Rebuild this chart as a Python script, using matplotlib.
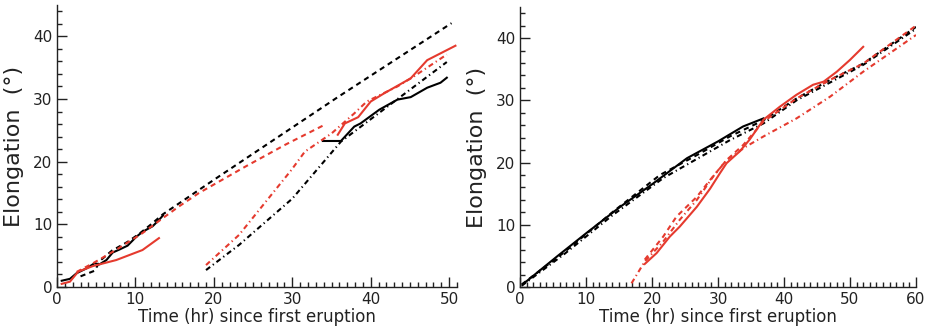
import numpy as np
import matplotlib
matplotlib.use('Agg')
import matplotlib.pyplot as plt
from matplotlib.ticker import MultipleLocator

plt.rcParams.update({'font.family': 'DejaVu Sans', 'text.color': '#222',
                     'axes.labelcolor': '#222', 'xtick.color': '#222',
                     'ytick.color': '#222'})

RED = '#e53a2e'
DASH = (2.5, 2.0)
DASHDOT = (2.5, 1.6, 0.6, 1.6)

# ---- left panel data ----
l_blk_solid_x = [0.6, 1.65, 2.5, 3.8, 4.8, 5.4, 6.3, 7.1, 8.0, 9.0, 10.1, 10.9, 12.2, 13.0, 13.5,
                 np.nan, 33.9, 36.2, 37.9, 38.7, 41.1, 43.4, 45.1, 47.2, 48.9, 49.7]
l_blk_solid_y = [1.0, 1.3, 2.2, 3.0, 3.8, 3.6, 4.3, 5.5, 6.0, 6.6, 8.0, 8.8, 9.7, 10.7, 11.4,
                 np.nan, 23.3, 23.3, 25.6, 26.1, 28.3, 29.9, 30.3, 31.8, 32.6, 33.4]
l_blk_dash_x = [3.0, 4.8, 5.5, 7.0, 9.0, 10.5, 12.0, 13.5, 20.0, 35.8, 50.3]
l_blk_dash_y = [1.7, 2.6, 4.2, 5.8, 7.2, 8.5, 10.0, 11.6, 17.1, 30.3, 42.1]
l_blk_dd_x = [19.0, 23.2, 30.0, 36.2, 43.0, 49.7]
l_blk_dd_y = [2.7, 6.7, 14.1, 23.2, 29.6, 35.9]

l_red_solid_x = [0.6, 1.65, 2.7, 4.6, 7.55, 10.9, 13.0,
                 np.nan, 35.8, 36.7, 38.4, 40.0, 41.7, 45.1, 47.2, 50.8]
l_red_solid_y = [0.5, 0.85, 2.45, 3.35, 4.3, 5.9, 7.8,
                 np.nan, 24.3, 26.1, 27.1, 29.6, 30.9, 33.3, 36.2, 38.5]
l_red_dash_x = [2.5, 4.6, 7.5, 10.9, 13.5, 15.6, 18.1, 24.0, 29.1, 34.3]
l_red_dash_y = [2.4, 3.8, 5.9, 8.6, 11.0, 12.9, 15.0, 19.2, 22.7, 26.0]
l_red_dd_x = [19.0, 23.2, 26.1, 29.9, 31.6, 35.0, 37.9, 39.5, 43.4, 45.5, 49.7]
l_red_dd_y = [3.5, 8.3, 12.8, 18.7, 21.6, 24.5, 27.7, 29.6, 32.0, 33.6, 37.1]

# ---- right panel data ----
r_blk_solid_x = [0.5, 5.6, 10.1, 15.2, 20.0, 25.3, 30.0, 33.8, 36.9]
r_blk_solid_y = [0.5, 4.9, 8.7, 12.9, 16.5, 20.7, 23.4, 25.8, 27.1]
r_blk_dash_x = [0.25, 6.6, 14.1, 21.2, 26.8, 31.8, 36.9, 41.9, 47.0, 52.0, 60.0]
r_blk_dash_y = [0.4, 5.5, 12.1, 18.0, 21.2, 24.2, 26.8, 30.3, 33.3, 35.9, 41.8]
r_blk_dd_x = [0.25, 6.6, 14.1, 21.7, 31.8, 36.9, 41.9, 52.0, 60.0]
r_blk_dd_y = [0.2, 5.2, 11.6, 17.5, 23.6, 26.3, 30.0, 35.7, 41.5]

r_red_solid_x = [18.9, 20.7, 22.7, 24.2, 26.8, 28.8, 30.3, 31.3, 33.3, 34.8, 36.9,
                 39.4, 41.9, 44.4, 46.0, 48.0, 50.0, 52.0]
r_red_solid_y = [3.7, 5.45, 8.1, 9.7, 12.9, 15.8, 18.3, 19.9, 21.8, 23.7, 26.9,
                 29.0, 30.9, 32.5, 33.0, 34.6, 36.5, 38.6]
r_red_dash_x = [18.9, 21.7, 23.7, 26.8, 28.8, 31.3, 33.8, 36.9, 41.9, 47.0, 52.0, 60.0]
r_red_dash_y = [4.4, 8.1, 11.3, 14.5, 17.2, 20.4, 22.8, 26.6, 30.3, 33.3, 35.9, 42.0]
r_red_dd_x = [16.9, 18.9, 21.7, 24.2, 26.8, 29.3, 31.3, 34.3, 36.9, 41.9, 47.0, 52.0, 60.0]
r_red_dd_y = [0.6, 4.1, 7.3, 10.8, 14.0, 17.8, 20.4, 22.6, 24.2, 27.1, 30.6, 34.6, 40.5]


def style_axes(ax, xmax):
    ax.set_xlim(0, xmax)
    ax.set_ylim(0, 45)
    for s in ('top', 'right'):
        ax.spines[s].set_visible(False)
    for s in ('left', 'bottom'):
        ax.spines[s].set_linewidth(1.0)
        ax.spines[s].set_color('#222')
    ax.xaxis.set_major_locator(MultipleLocator(10))
    ax.xaxis.set_minor_locator(MultipleLocator(1))
    ax.yaxis.set_major_locator(MultipleLocator(10))
    ax.yaxis.set_minor_locator(MultipleLocator(2))
    ax.tick_params(which='both', direction='in', labelsize=11, width=1.0)
    ax.tick_params(which='major', length=7)
    ax.tick_params(which='minor', length=3.5)
    ax.set_xlabel('Time (hr) since first eruption', fontsize=12, labelpad=1)
    ax.set_ylabel('Elongation  (°)', fontsize=16, labelpad=6)


fig = plt.figure(figsize=(9.33, 3.36), dpi=100)
ax1 = fig.add_axes([57 / 933, 1 - 287 / 336, 400 / 933, 282 / 336])
ax2 = fig.add_axes([520 / 933, 1 - 287 / 336, 396 / 933, 280 / 336])

lw = 1.5
ax1.plot(l_blk_solid_x, l_blk_solid_y, color='k', lw=lw)
ax1.plot(l_blk_dash_x, l_blk_dash_y, color='k', lw=lw, dashes=DASH)
ax1.plot(l_blk_dd_x, l_blk_dd_y, color='k', lw=lw, dashes=DASHDOT)
ax1.plot(l_red_solid_x, l_red_solid_y, color=RED, lw=lw)
ax1.plot(l_red_dash_x, l_red_dash_y, color=RED, lw=lw, dashes=DASH)
ax1.plot(l_red_dd_x, l_red_dd_y, color=RED, lw=lw, dashes=DASHDOT)
style_axes(ax1, 51)

ax2.plot(r_blk_solid_x, r_blk_solid_y, color='k', lw=lw)
ax2.plot(r_blk_dash_x, r_blk_dash_y, color='k', lw=lw, dashes=DASH)
ax2.plot(r_blk_dd_x, r_blk_dd_y, color='k', lw=lw, dashes=DASHDOT)
ax2.plot(r_red_solid_x, r_red_solid_y, color=RED, lw=lw)
ax2.plot(r_red_dash_x, r_red_dash_y, color=RED, lw=lw, dashes=DASH)
ax2.plot(r_red_dd_x, r_red_dd_y, color=RED, lw=lw, dashes=DASHDOT)
style_axes(ax2, 60)

fig.savefig('out.png', dpi=100)
